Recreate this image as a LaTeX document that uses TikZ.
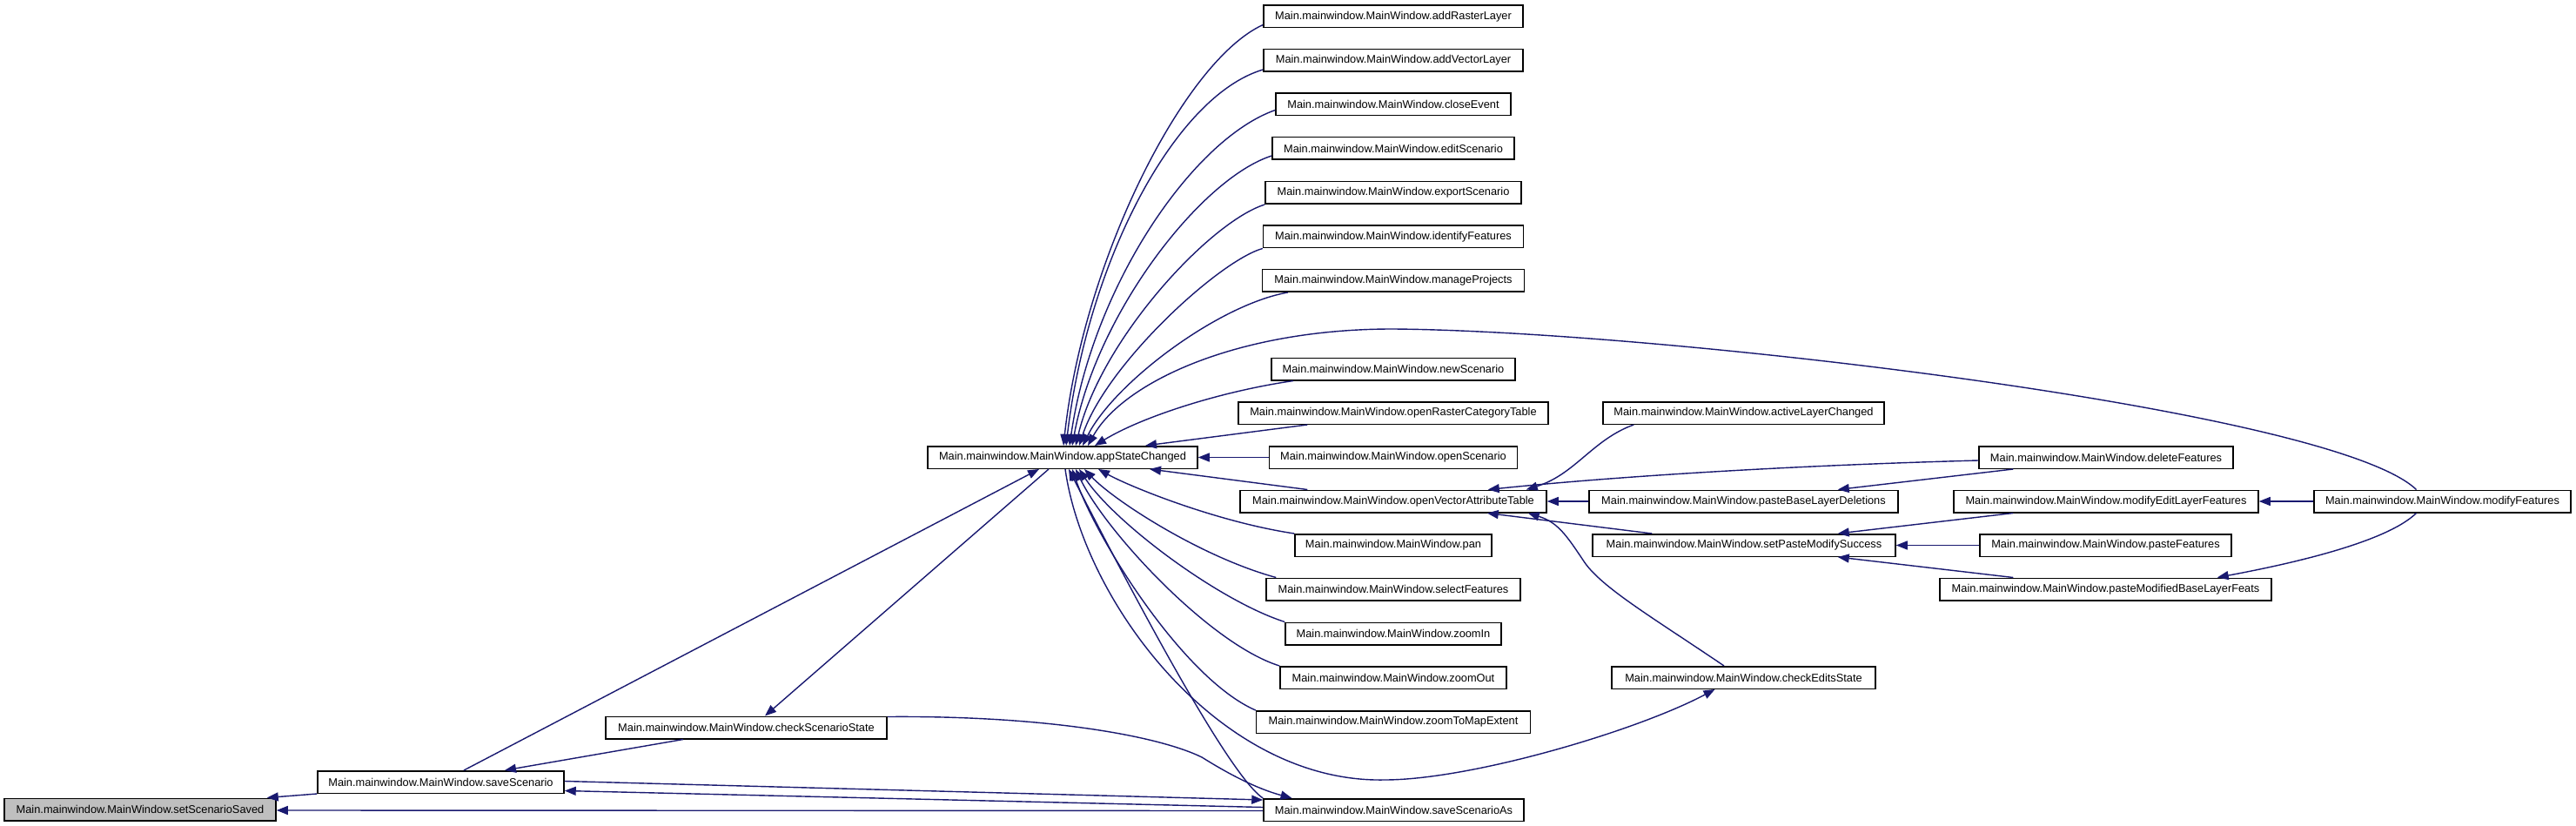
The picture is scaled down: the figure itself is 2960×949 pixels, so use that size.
\documentclass[tikz,border=0pt]{standalone}
\usepackage{fontspec}
\setmainfont{Liberation Sans}
\usetikzlibrary{arrows.meta}
\definecolor{edgecol}{HTML}{191970}
\definecolor{rootfill}{HTML}{BFBFBF}
\begin{document}
\begin{tikzpicture}[x=1pt,y=-1pt,
  fn/.style={draw=black,line width=1.5pt,fill=white,rectangle,minimum height=25.5pt,inner xsep=0pt,inner ysep=0pt,font=\fontsize{12.8}{14}\selectfont},
  root/.style={fn,fill=rootfill},
  edge/.style={draw=edgecol,line width=1.4pt,-{Triangle[length=13pt,width=10pt]},fill=none}]
\useasboundingbox[fill=white] (0,0) rectangle (2960,949);
% nodes
\node[root,minimum width=312pt] (ss) at (161,930) {Main.mainwindow.MainWindow.setScenarioSaved};
\node[fn,minimum width=283pt] (save) at (506.5,898.5) {Main.mainwindow.MainWindow.saveScenario};
\node[fn,minimum width=323pt] (css) at (857.5,836) {Main.mainwindow.MainWindow.checkScenarioState};
\node[fn,minimum width=310pt] (asc) at (1221,525.5) {Main.mainwindow.MainWindow.appStateChanged};
\node[fn,minimum width=298pt] (addr) at (1601,19) {Main.mainwindow.MainWindow.addRasterLayer};
\node[fn,minimum width=298pt] (addv) at (1601,69.5) {Main.mainwindow.MainWindow.addVectorLayer};
\node[fn,minimum width=270pt] (close) at (1601,120) {Main.mainwindow.MainWindow.closeEvent};
\node[fn,minimum width=278pt] (edit) at (1601,170.5) {Main.mainwindow.MainWindow.editScenario};
\node[fn,minimum width=294pt] (export) at (1601,221.5) {Main.mainwindow.MainWindow.exportScenario};
\node[fn,minimum width=299pt] (ident) at (1601,272) {Main.mainwindow.MainWindow.identifyFeatures};
\node[fn,minimum width=301pt] (manage) at (1601,322.5) {Main.mainwindow.MainWindow.manageProjects};
\node[fn,minimum width=280pt] (newsc) at (1601,424) {Main.mainwindow.MainWindow.newScenario};
\node[fn,minimum width=356pt] (openr) at (1601,474.5) {Main.mainwindow.MainWindow.openRasterCategoryTable};
\node[fn,minimum width=285pt] (opensc) at (1601,525.5) {Main.mainwindow.MainWindow.openScenario};
\node[fn,minimum width=352pt] (ovat) at (1601,576) {Main.mainwindow.MainWindow.openVectorAttributeTable};
\node[fn,minimum width=226pt] (pan) at (1601,626.5) {Main.mainwindow.MainWindow.pan};
\node[fn,minimum width=292pt] (selectf) at (1601,677) {Main.mainwindow.MainWindow.selectFeatures};
\node[fn,minimum width=248pt] (zin) at (1601,728) {Main.mainwindow.MainWindow.zoomIn};
\node[fn,minimum width=260pt] (zout) at (1601,778.5) {Main.mainwindow.MainWindow.zoomOut};
\node[fn,minimum width=315pt] (zmap) at (1601,829.5) {Main.mainwindow.MainWindow.zoomToMapExtent};
\node[fn,minimum width=299pt] (ssa) at (1601.5,930.5) {Main.mainwindow.MainWindow.saveScenarioAs};
\node[fn,minimum width=323pt] (alc) at (2003.5,474.5) {Main.mainwindow.MainWindow.activeLayerChanged};
\node[fn,minimum width=355pt] (pbld) at (2003.5,576) {Main.mainwindow.MainWindow.pasteBaseLayerDeletions};
\node[fn,minimum width=348pt] (spms) at (2004,626.5) {Main.mainwindow.MainWindow.setPasteModifySuccess};
\node[fn,minimum width=303pt] (cedits) at (2003.5,778.5) {Main.mainwindow.MainWindow.checkEditsState};
\node[fn,minimum width=292pt] (delf) at (2420,525.5) {Main.mainwindow.MainWindow.deleteFeatures};
\node[fn,minimum width=350pt] (melf) at (2420,576) {Main.mainwindow.MainWindow.modifyEditLayerFeatures};
\node[fn,minimum width=289pt] (pastef) at (2419.5,626.5) {Main.mainwindow.MainWindow.pasteFeatures};
\node[fn,minimum width=381pt] (pmblf) at (2419.5,677) {Main.mainwindow.MainWindow.pasteModifiedBaseLayerFeats};
\node[fn,minimum width=295pt] (modf) at (2806.5,576) {Main.mainwindow.MainWindow.modifyFeatures};
\coordinate (mfa) at (1600,378);
\coordinate (cea) at (1591,896);
\coordinate (csa) at (1381,870);
\coordinate (cva) at (1820,645);
% edges into appStateChanged (top)
\draw[edge] ([yshift=4pt]addr.south west) .. controls (1360,70) and (1245,300) .. ([xshift=1pt]asc.north);
\draw[edge] ([yshift=3pt]addv.south west) .. controls (1350,110) and (1250,300) .. ([xshift=4pt]asc.north);
\draw[edge] ([yshift=7pt]close.south west) .. controls (1370,160) and (1255,330) .. ([xshift=8pt]asc.north);
\draw[edge] ([yshift=5pt]edit.south west) .. controls (1380,205) and (1260,360) .. ([xshift=11pt]asc.north);
\draw[edge] (export.south west) .. controls (1390,255) and (1265,390) .. ([xshift=15pt]asc.north);
\draw[edge] (ident.south west) .. controls (1400,300) and (1270,420) .. ([xshift=19pt]asc.north);
\draw[edge] ([xshift=30pt]manage.south west) .. controls (1400,350) and (1280,440) .. ([xshift=23pt]asc.north);
\draw[edge] ([xshift=-30pt]modf.north) .. controls (2680,470) and (1900,380) .. (mfa) .. controls (1420,378) and (1290,440) .. ([xshift=29pt]asc.north);
\draw[edge] ([xshift=26pt]newsc.south west) .. controls (1400,450) and (1310,480) .. ([xshift=37pt]asc.north);
\draw[edge] ([xshift=80pt]openr.south west) -- ([xshift=95pt]asc.north);
\draw[edge] (opensc.west) -- (asc.east);
% edges into appStateChanged (bottom)
\draw[edge] ([xshift=78pt]ovat.north west) -- ([xshift=100pt]asc.south);
\draw[edge] (pan.north west) .. controls (1400,600) and (1300,560) .. ([xshift=41pt]asc.south);
\draw[edge] ([xshift=12pt]selectf.north west) .. controls (1380,640) and (1280,575) .. ([xshift=25pt]asc.south);
\draw[edge] (zin.north west) .. controls (1400,690) and (1280,600) .. ([xshift=19pt]asc.south);
\draw[edge] (zout.north west) .. controls (1390,740) and (1270,610) .. ([xshift=15pt]asc.south);
\draw[edge] (zmap.north west) .. controls (1360,780) and (1260,620) .. ([xshift=11pt]asc.south);
\draw[edge] (ssa.north west) .. controls (1410,890) and (1290,660) .. ([xshift=7pt]asc.south);
\draw[edge] ([xshift=26.5pt]save.north) -- ([xshift=-27pt]asc.south);
% edges out of appStateChanged
\draw[edge] ([xshift=3pt]asc.south) .. controls (1245,690) and (1400,900) .. (cea) .. controls (1690,896) and (1880,840) .. ([xshift=-33pt]cedits.south);
\draw[edge] ([xshift=-16pt]asc.south) -- ([xshift=21.5pt]css.north);
% saveScenario / checkScenarioState / saveScenarioAs
\draw[edge] ([xshift=-72.5pt]css.south) -- ([xshift=73.5pt]save.north);
\draw[edge] ([yshift=-1pt]css.north east) .. controls (1200,822) and (1330,845) .. (csa) .. controls (1405,885) and (1440,905) .. ([xshift=-117pt]ssa.north);
\draw[edge] ([yshift=1pt]save.east) -- ([yshift=-2pt]ssa.north west);
\draw[edge] ([yshift=3pt]ssa.west) -- ([yshift=-10pt]save.east);
\draw[edge] ([yshift=-1pt]ssa.west) -- ([yshift=-1pt]ss.east);
\draw[edge] (save.south west) -- ([xshift=-11pt]ss.north east);
% into openVectorAttributeTable
\draw[edge] ([xshift=36pt]alc.south west) .. controls (1830,505) and (1810,545) .. ([xshift=-24pt]ovat.north east);
\draw[edge] ([yshift=-3.5pt]delf.west) .. controls (2050,535) and (1850,548) .. ([xshift=-68pt]ovat.north east);
\draw[edge] (pbld.west) -- (ovat.east);
\draw[edge] ([xshift=69pt]spms.north west) -- ([xshift=-69pt]ovat.south east);
\draw[edge] ([xshift=-22.5pt]cedits.north) .. controls (1900,710) and (1840,675) .. (cva) .. controls (1800,615) and (1790,600) .. ([xshift=-22pt]ovat.south east);
% column 5 and 6
\draw[edge] ([xshift=40pt]delf.south west) -- ([xshift=-70pt]pbld.north east);
\draw[edge] ([xshift=69pt]melf.south west) -- ([xshift=-67pt]spms.north east);
\draw[edge] (pastef.west) -- (spms.east);
\draw[edge] ([xshift=85pt]pmblf.north west) -- ([xshift=-67pt]spms.south east);
\draw[edge] (modf.west) -- (melf.east);
\draw[edge] ([xshift=-30pt]modf.south) .. controls (2740,625) and (2620,650) .. ([xshift=-63pt]pmblf.north east);
\end{tikzpicture}
\end{document}
